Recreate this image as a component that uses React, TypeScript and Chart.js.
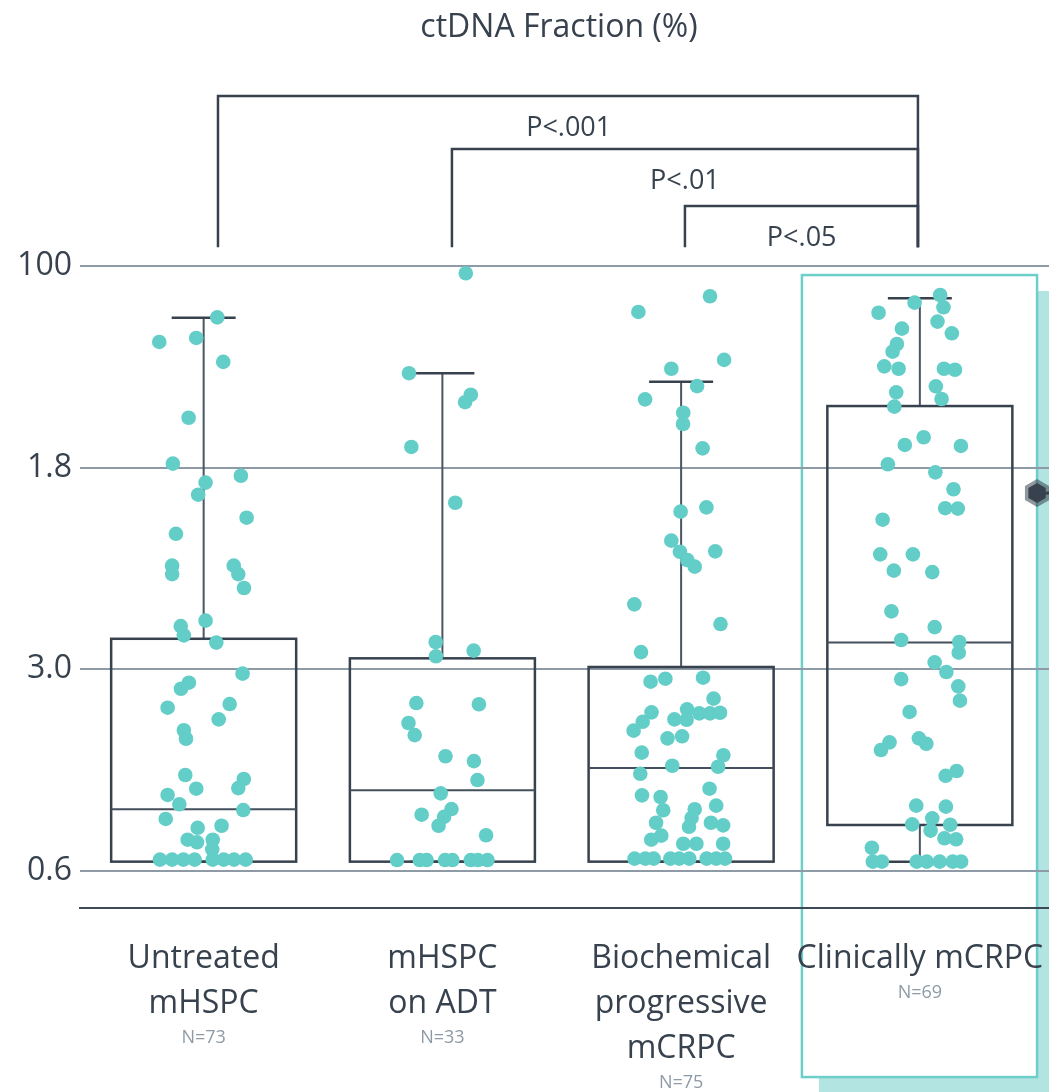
import { useEffect, useRef } from 'react';
import { Chart, registerables } from 'chart.js';

Chart.register(...registerables);

// ---------- data ----------
const title = 'ctDNA Fraction (%)';
const categoryLines = [['Untreated', 'mHSPC'], ['mHSPC', 'on ADT'], ['Biochemical', 'progressive', 'mCRPC'], ['Clinically mCRPC']];
const sampleSizes = ['N=73', 'N=33', 'N=75', 'N=69'];
const yTickPositions = [0, 1, 2, 3];
const yTickLabels = ['0.6', '3.0', '1.8', '100'];

// box statistics (in axis position units)
const whiskerLow = [0.044, 0.044, 0.044, 0.044];
const quartile1 = [0.044, 0.044, 0.044, 0.226];
const medians = [0.304, 0.398, 0.509, 1.131];
const quartile3 = [1.15, 1.053, 1.01, 2.305];
const whiskerHigh = [2.743, 2.468, 2.426, 2.84];

// individual samples: [horizontal jitter, value]
const group1Points = [
  [0.057, 2.745], [-0.186, 2.623], [-0.031, 2.643], [0.082, 2.524], [-0.063, 2.247], [-0.129, 2.019], [0.156, 1.959],
  [0.008, 1.925], [-0.023, 1.865], [0.18, 1.751], [-0.116, 1.671], [-0.132, 1.513], [-0.132, 1.471], [0.126, 1.513],
  [0.145, 1.471], [0.169, 1.402], [0.008, 1.24], [-0.096, 1.213], [-0.083, 1.167], [0.053, 1.131], [0.163, 0.977],
  [-0.062, 0.932], [-0.095, 0.902], [-0.151, 0.808], [0.109, 0.826], [0.063, 0.75], [-0.083, 0.696], [-0.074, 0.654],
  [-0.077, 0.474], [0.168, 0.454], [0.145, 0.409], [-0.031, 0.406], [-0.151, 0.375], [-0.102, 0.329], [0.166, 0.3],
  [-0.159, 0.256], [-0.025, 0.212], [0.075, 0.222], [-0.067, 0.153], [-0.028, 0.14], [0.038, 0.153], [0.036, 0.105],
  [-0.183, 0.054], [-0.132, 0.054], [-0.085, 0.054], [-0.038, 0.054], [0.038, 0.054], [0.084, 0.054], [0.127, 0.054],
  [0.176, 0.054],
];
const group2Points = [
  [0.098, 2.964], [-0.14, 2.468], [0.119, 2.361], [0.095, 2.324], [-0.13, 2.102], [0.054, 1.825], [-0.028, 1.134],
  [-0.027, 1.063], [0.131, 1.091], [-0.109, 0.831], [0.153, 0.825], [-0.142, 0.732], [-0.116, 0.672], [0.013, 0.567],
  [0.132, 0.543], [0.147, 0.449], [-0.007, 0.383], [-0.087, 0.277], [0.038, 0.305], [0.007, 0.266], [-0.016, 0.222],
  [0.183, 0.175], [-0.19, 0.052], [-0.095, 0.052], [-0.066, 0.052], [0.011, 0.052], [0.042, 0.052], [0.119, 0.052],
  [0.149, 0.052], [0.189, 0.052],
];
const group3Points = [
  [0.121, 2.85], [-0.179, 2.772], [0.18, 2.534], [-0.041, 2.49], [0.067, 2.404], [-0.151, 2.338], [0.009, 2.272],
  [0.008, 2.216], [0.09, 2.095], [-0.002, 1.781], [0.106, 1.802], [-0.041, 1.637], [-0.005, 1.582], [0.143, 1.584],
  [0.026, 1.541], [0.057, 1.508], [-0.196, 1.321], [0.165, 1.223], [-0.168, 1.084], [-0.128, 0.937], [-0.066, 0.952],
  [0.092, 0.957], [0.136, 0.853], [-0.124, 0.785], [-0.161, 0.738], [-0.199, 0.694], [-0.028, 0.75], [0.025, 0.8],
  [0.023, 0.748], [0.076, 0.78], [0.121, 0.78], [0.163, 0.783], [-0.057, 0.656], [0.004, 0.666], [-0.165, 0.585],
  [0.177, 0.572], [0.155, 0.515], [-0.037, 0.52], [-0.171, 0.48], [-0.164, 0.373], [-0.086, 0.365], [0.119, 0.406],
  [0.147, 0.322], [-0.075, 0.299], [0.057, 0.304], [0.044, 0.261], [0.033, 0.217], [-0.105, 0.237], [0.125, 0.237],
  [0.176, 0.224], [-0.083, 0.173], [-0.125, 0.153], [0.009, 0.133], [0.064, 0.133], [0.176, 0.133],
  [-0.195, 0.059], [-0.15, 0.059], [-0.115, 0.059], [-0.045, 0.059], [-0.008, 0.059], [0.034, 0.059], [0.107, 0.059],
  [0.147, 0.059], [0.184, 0.059],
];
const group4Points = [
  [0.085, 2.856], [-0.022, 2.818], [0.099, 2.795], [-0.173, 2.768], [0.074, 2.724], [-0.075, 2.689], [0.134, 2.666],
  [-0.096, 2.613], [-0.114, 2.575], [-0.149, 2.502], [-0.089, 2.49], [0.101, 2.49], [0.147, 2.485], [0.067, 2.403],
  [-0.099, 2.373], [0.091, 2.34], [-0.107, 2.302], [-0.063, 2.112], [0.016, 2.15], [0.172, 2.107], [-0.134, 2.016],
  [0.065, 1.976], [0.141, 1.892], [0.106, 1.798], [0.159, 1.796], [-0.156, 1.741], [-0.166, 1.569], [-0.029, 1.569],
  [-0.109, 1.488], [0.052, 1.481], [-0.119, 1.286], [0.062, 1.208], [-0.078, 1.144], [0.165, 1.134], [0.163, 1.081],
  [0.062, 1.033], [0.111, 0.985], [-0.078, 0.95], [0.161, 0.914], [0.168, 0.843], [-0.043, 0.787], [-0.127, 0.636],
  [-0.163, 0.598], [-0.004, 0.656], [0.027, 0.629], [0.154, 0.494], [0.108, 0.47], [-0.015, 0.322], [0.109, 0.317],
  [-0.032, 0.229], [0.052, 0.259], [0.045, 0.198], [0.127, 0.227], [0.103, 0.16], [0.152, 0.155], [-0.201, 0.113],
  [-0.197, 0.044], [-0.159, 0.044], [-0.013, 0.044], [0.029, 0.044], [0.083, 0.044], [0.138, 0.044], [0.173, 0.044],
];
const groupPoints = [group1Points, group2Points, group3Points, group4Points];

// significance brackets
const bracketLeft = [0.06, 1.04, 2.016];
const bracketRight = 2.992;
const bracketTops = [3.844, 3.581, 3.298];
const bracketBase = 3.093;
const pLabels = ['P<.001', 'P<.01', 'P<.05'];
const pLabelX = [1.529, 2.016, 2.505];
const pLabelY = [3.645, 3.382, 3.099];

// highlighted category frame
const highlightX = [2.506, 3.491];
const highlightY = [2.955, -1.025];
const markerY = 1.873;

// ---------- styles ----------
const TEAL = '#63cdc8';
const DARK = '#37424e';
const GRID = '#8e9aa6';
const FONT = "'Open Sans', 'Noto Sans', sans-serif";
const BOX_HALF = 0.3875;
const CAP_HALF = 0.134;

const highlightPlugin = {
  id: 'highlight',
  beforeDraw(chart: any) {
    const { ctx, scales } = chart;
    const x = scales.x, y = scales.y;
    const l = x.getPixelForValue(highlightX[0]);
    const r = x.getPixelForValue(highlightX[1]);
    const t = y.getPixelForValue(highlightY[0]);
    const b = y.getPixelForValue(highlightY[1]);
    ctx.save();
    ctx.fillStyle = '#b2e4e1';
    ctx.fillRect(l + 17, t + 16, r - l, b - t);
    ctx.fillStyle = '#ffffff';
    ctx.fillRect(l, t, r - l, b - t);
    ctx.strokeStyle = '#6ccfc9';
    ctx.lineWidth = 2.5;
    ctx.strokeRect(l, t, r - l, b - t);
    ctx.restore();
  },
};

const boxPlugin = {
  id: 'boxes',
  beforeDatasetsDraw(chart: any) {
    const { ctx, scales } = chart;
    const x = scales.x, y = scales.y;
    ctx.save();
    for (let i = 0; i < medians.length; i++) {
      const l = x.getPixelForValue(i - BOX_HALF);
      const r = x.getPixelForValue(i + BOX_HALF);
      const cx = x.getPixelForValue(i);
      const cl = x.getPixelForValue(i - CAP_HALF);
      const cr = x.getPixelForValue(i + CAP_HALF);
      const yq1 = y.getPixelForValue(quartile1[i]);
      const yq3 = y.getPixelForValue(quartile3[i]);
      const ym = y.getPixelForValue(medians[i]);
      const yh = y.getPixelForValue(whiskerHigh[i]);
      const yl = y.getPixelForValue(whiskerLow[i]);
      ctx.strokeStyle = '#4a5663';
      ctx.lineWidth = 2;
      ctx.beginPath();
      ctx.moveTo(cx, yq3); ctx.lineTo(cx, yh);
      ctx.moveTo(cx, yq1); ctx.lineTo(cx, yl);
      ctx.stroke();
      ctx.strokeStyle = DARK;
      ctx.lineWidth = 2.5;
      ctx.beginPath();
      ctx.moveTo(cl, yh); ctx.lineTo(cr, yh);
      ctx.moveTo(cl, yl); ctx.lineTo(cr, yl);
      ctx.stroke();
      ctx.lineWidth = 2.5;
      ctx.strokeRect(l, yq3, r - l, yq1 - yq3);
      ctx.strokeStyle = '#44505d';
      ctx.lineWidth = 2;
      ctx.beginPath();
      ctx.moveTo(l, ym); ctx.lineTo(r, ym);
      ctx.stroke();
    }
    ctx.restore();
  },
};

const textPlugin = {
  id: 'texts',
  afterDraw(chart: any) {
    const { ctx, scales, width } = chart;
    const x = scales.x, y = scales.y;
    ctx.save();
    ctx.fillStyle = DARK;
    ctx.textAlign = 'center';
    ctx.textBaseline = 'alphabetic';
    ctx.font = `32px ${FONT}`;
    ctx.fillText(title, 559, 37);
    ctx.font = `27px ${FONT}`;
    for (let i = 0; i < pLabels.length; i++) {
      ctx.fillText(pLabels[i], x.getPixelForValue(pLabelX[i]), y.getPixelForValue(pLabelY[i]));
    }
    const base = chart.chartArea.bottom + 60;
    for (let i = 0; i < categoryLines.length; i++) {
      const cx = x.getPixelForValue(i);
      ctx.fillStyle = DARK;
      ctx.font = `32px ${FONT}`;
      categoryLines[i].forEach((line, k) => ctx.fillText(line, cx, base + k * 45));
      ctx.fillStyle = GRID;
      ctx.font = `18px ${FONT}`;
      ctx.fillText(sampleSizes[i], cx, base + (categoryLines[i].length - 1) * 45 + 30);
    }
    const hx = x.getPixelForValue(highlightX[1]);
    const hy = y.getPixelForValue(markerY);
    const hex = (rad: number) => {
      ctx.beginPath();
      for (let k = 0; k < 6; k++) {
        const a = (k * Math.PI) / 3 + Math.PI / 2;
        const px = hx + rad * Math.cos(a), py = hy + rad * Math.sin(a);
        if (k === 0) ctx.moveTo(px, py); else ctx.lineTo(px, py);
      }
      ctx.closePath();
      ctx.fill();
    };
    ctx.fillStyle = 'rgba(55,66,78,0.55)';
    hex(14);
    ctx.fillStyle = DARK;
    hex(10);
    ctx.fillRect(hx, hy - 1.5, width - hx, 3);
    ctx.restore();
  },
};

export default function App() {
  const ref = useRef<HTMLCanvasElement | null>(null);

  useEffect(() => {
    document.body.style.margin = '0';
    const canvas = ref.current;
    if (!canvas) return;

    const pointSets = groupPoints.map((pts, gi) => ({
      type: 'scatter' as const,
      data: pts.map(([j, v]) => ({ x: gi + j, y: v })),
      backgroundColor: TEAL,
      borderWidth: 0,
      pointRadius: 7.3,
      pointHoverRadius: 7.3,
      order: 1,
    }));

    const bracketSets = bracketLeft.map((lx, i) => ({
      type: 'line' as const,
      data: [
        { x: lx, y: bracketBase },
        { x: lx, y: bracketTops[i] },
        { x: bracketRight, y: bracketTops[i] },
        { x: bracketRight, y: bracketBase },
      ],
      borderColor: DARK,
      borderWidth: 2.5,
      pointRadius: 0,
      fill: false,
      tension: 0,
      order: 2,
    }));

    const chart = new Chart(canvas, {
      type: 'scatter',
      data: { datasets: [...bracketSets, ...pointSets] as any },
      plugins: [highlightPlugin, boxPlugin, textPlugin],
      options: {
        animation: false,
        responsive: false,
        events: [],
        layout: { padding: 0, autoPadding: false },
        plugins: { legend: { display: false }, tooltip: { enabled: false }, title: { display: false } },
        scales: {
          x: {
            type: 'linear',
            min: -0.518,
            max: 3.541,
            grid: { display: false },
            ticks: { display: false },
            border: { display: true, color: '#3c4956', width: 2 },
            afterFit(scale: any) {
              scale.height = 184;
              scale.paddingLeft = 0; scale.paddingRight = 0; scale.paddingTop = 0; scale.paddingBottom = 0;
            },
          },
          y: {
            type: 'linear',
            min: -0.186,
            max: 4.32,
            afterBuildTicks(scale: any) {
              scale.ticks = yTickPositions.map((v) => ({ value: v }));
            },
            ticks: {
              padding: 8,
              color: DARK,
              font: { family: FONT, size: 32 },
              callback: (value: any) => yTickLabels[yTickPositions.indexOf(Number(value))] ?? '',
            },
            grid: { color: GRID, lineWidth: 2, drawTicks: false },
            border: { display: false },
            afterFit(scale: any) {
              scale.width = 80;
              scale.paddingLeft = 0; scale.paddingRight = 0; scale.paddingTop = 0; scale.paddingBottom = 0;
            },
          },
        },
      } as any,
    });
    return () => chart.destroy();
  }, []);

  return (
    <div style={{ position: 'absolute', left: 0, top: 0, width: 1049, height: 1092, background: '#fff' }}>
      <canvas ref={ref} width={1049} height={1092} style={{ display: 'block' }} />
    </div>
  );
}
